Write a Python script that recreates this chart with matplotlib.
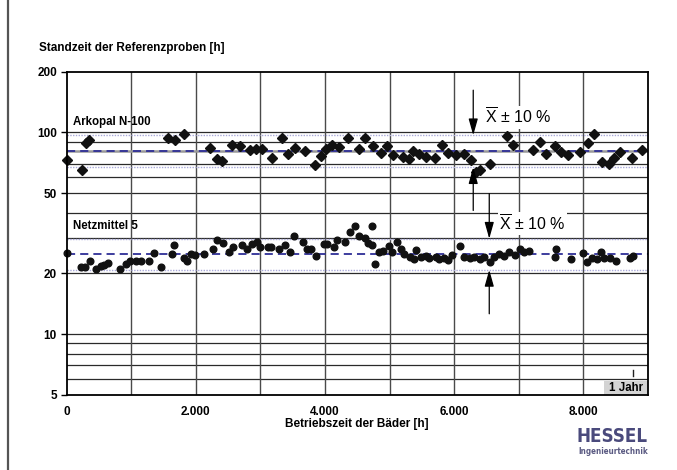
import matplotlib
matplotlib.use("Agg")
import matplotlib.pyplot as plt
from matplotlib.lines import Line2D
from matplotlib.patches import Rectangle

plt.rcParams['font.family'] = ['Liberation Sans', 'DejaVu Sans']
plt.rcParams['mathtext.fontset'] = 'custom'
plt.rcParams['mathtext.rm'] = 'Liberation Sans'

# ---- data ----
ark_x = [0, 233, 300, 340, 1562, 1682, 1822, 2215, 2329, 2412, 2562, 2676, 2836, 2929,
         3028, 3173, 3339, 3432, 3535, 3685, 3845, 3934, 4022, 4115, 4209, 4358, 4519,
         4622, 4736, 4866, 4954, 5047, 5203, 5305, 5367, 5461, 5564, 5704, 5808, 5901,
         6030, 6150, 6252, 6341, 6392, 6554, 6822, 6911, 7222, 7325, 7428, 7557, 7650,
         7754, 7945, 8065, 8169, 8282, 8396, 8473, 8567, 8748, 8903]
ark_y = [72.7, 65.4, 89, 92, 94.3, 92.2, 98.7, 84.1, 73.6, 71.9, 86.3, 85.7, 82.2, 83.2,
         83.2, 75.0, 93.3, 78.5, 84.1, 80.6, 68.7, 76.2, 83.2, 87.0, 84.7, 94.3, 83.2,
         94.3, 85.4, 79.4, 85.4, 77.6, 75.5, 74.2, 80.9, 78.5, 75.5, 75.0, 86.3, 79.1,
         77.0, 78.5, 72.7, 63.6, 65.4, 70.0, 96.2, 86.3, 81.5, 89.7, 78.5, 85.4, 80.0,
         77.6, 80.0, 88.7, 98.0, 71.3, 70.0, 75.0, 80.0, 75.0, 82.2]

netz_x = [0, 217, 283, 361, 454, 526, 578, 644, 826, 918, 980, 1073, 1146, 1280, 1353,
          1456, 1627, 1662, 1817, 1859, 1921, 1988, 2128, 2262, 2324, 2427, 2520, 2582,
          2711, 2789, 2866, 2944, 2994, 3124, 3166, 3290, 3383, 3450, 3513, 3652, 3720,
          3787, 3860, 3978, 4030, 4133, 4185, 4303, 4392, 4459, 4522, 4626, 4667, 4729,
          4719, 4780, 4842, 4893, 4997, 5040, 5117, 5170, 5221, 5310, 5377, 5413, 5480,
          5557, 5608, 5712, 5763, 5840, 5908, 5970, 6082, 6155, 6237, 6309, 6391, 6453,
          6546, 6608, 6686, 6764, 6841, 6944, 7012, 7084, 7151, 7580, 7564, 7807, 7992,
          8054, 8132, 8210, 8272, 8324, 8417, 8510, 8727, 8768]
netz_y = [25.3, 21.4, 21.6, 23.1, 20.9, 21.7, 22.0, 22.5, 20.9, 22.2, 22.9, 23.1, 23.1,
          23.1, 25.3, 21.4, 25.0, 27.7, 23.9, 23.1, 25.0, 24.7, 25.0, 26.4, 29.4, 28.3,
          25.6, 26.9, 27.7, 26.3, 28.0, 28.5, 26.9, 26.9, 26.9, 26.3, 27.7, 25.6, 30.6,
          28.7, 26.4, 26.3, 24.5, 28.0, 27.8, 26.9, 29.1, 28.7, 32.0, 34.3, 30.6, 29.9,
          28.3, 34.3, 27.7, 22.3, 25.4, 25.8, 27.2, 25.4, 28.7, 26.4, 25.0, 24.0, 23.6,
          26.2, 24.0, 24.5, 23.8, 24.0, 23.6, 23.8, 23.4, 24.7, 27.2, 24.0, 23.8, 24.0,
          23.6, 24.0, 22.7, 24.0, 25.0, 24.4, 25.6, 24.7, 26.3, 25.4, 25.8, 26.3, 24.0,
          23.6, 25.3, 22.8, 23.8, 23.6, 25.6, 23.8, 23.8, 23.1, 23.8, 24.5]

ark_mean, ark_hi, ark_lo = 80.6, 96.8, 67.2
netz_mean, netz_hi, netz_lo = 24.8, 29.7, 20.8

y_ticks = [5, 10, 20, 50, 100, 200]
x_ticks = [0, 2000, 4000, 6000, 8000]
x_ticklabels = ['0', '2.000', '4.000', '6.000', '8.000']
h_grid = [6, 7, 8, 9, 10, 20, 30, 40, 50, 60, 70, 90, 100]

# ---- figure ----
fig = plt.figure(figsize=(6.77, 4.70), dpi=100)
ax = fig.add_axes([0.0985, 0.1602, 0.8587, 0.6872])
ax.set_yscale('log')
ax.set_xlim(0, 9000)
ax.set_ylim(5, 200)

for v in h_grid:
    ax.axhline(v, color='#2a2a2a', lw=0.9, zorder=1)
for v in range(1000, 9000, 1000):
    ax.axvline(v, color='#4a4a4a', lw=1.0, zorder=1)

# mean and band lines
ax.axhline(ark_mean, color='#999999', lw=1.8, zorder=1.5)
for m, hi, lo in [(ark_mean, ark_hi, ark_lo), (netz_mean, netz_hi, netz_lo)]:
    ax.axhline(m, color='#2e2e96', lw=1.3, ls=(0, (4.5, 2.8)), zorder=2)
    ax.axhline(hi, color='#a8a8d8', lw=1.0, ls=(0, (1, 1)), zorder=2)
    ax.axhline(lo, color='#a8a8d8', lw=1.0, ls=(0, (1, 1)), zorder=2)

ax.plot(ark_x, ark_y, ls='none', marker='D', ms=5.0, color='#111111', zorder=4, clip_on=False)
ax.plot(netz_x, netz_y, ls='none', marker='o', ms=4.8, color='#111111', zorder=4, clip_on=False)

# series labels
ax.text(100, 112, 'Arkopal N-100', fontsize=8.3, fontweight='bold', va='center', ha='left', zorder=5)
ax.text(100, 34.5, 'Netzmittel 5', fontsize=8.3, fontweight='bold', va='center', ha='left', zorder=5)

# arrows
ap = dict(arrowstyle='-|>,head_length=1.0,head_width=0.28', color='black', lw=0.9,
          shrinkA=0, shrinkB=0)
ax.annotate('', xy=(6294, ark_hi), xytext=(6294, 162), arrowprops=ap, zorder=5)
ax.annotate('', xy=(6294, ark_lo), xytext=(6294, 41), arrowprops=ap, zorder=5)
ax.annotate('', xy=(6542, netz_hi), xytext=(6542, 49.7), arrowprops=ap, zorder=5)
ax.annotate('', xy=(6542, netz_lo), xytext=(6542, 12.6), arrowprops=ap, zorder=5)

lbl = r'$\overline{\rm X}$' + ' ± 10 %'
ax.text(6470, 119, lbl, fontsize=11.5, va='center', ha='left', zorder=5,
        bbox=dict(facecolor='white', edgecolor='none', pad=1.0))
ax.text(6700, 35.3, lbl, fontsize=11.5, va='center', ha='left', zorder=5,
        bbox=dict(facecolor='white', edgecolor='none', pad=1.0))

# 1 Jahr box
ax.add_patch(Rectangle((8317, 5), 9000 - 8317, 0.85, facecolor='#d3d3d3', edgecolor='none', zorder=3))
ax.text(8660, 5.42, '1 Jahr', fontsize=8.3, fontweight='bold', ha='center', va='center', zorder=5)
ax.plot([8760, 8760], [6.2, 6.63], color='#222222', lw=1.0, zorder=5)

# axes styling
for s in ax.spines.values():
    s.set_color('black')
    s.set_linewidth(1.3)
    s.set_zorder(6)
ax.set_yticks(y_ticks)
ax.set_yticklabels([str(v) for v in y_ticks])
ax.yaxis.set_minor_locator(matplotlib.ticker.NullLocator())
ax.set_xticks(x_ticks)
ax.set_xticklabels(x_ticklabels)
ax.tick_params(axis='y', which='major', length=4, width=1.0, pad=3, labelsize=8.5, direction='out')
ax.tick_params(axis='x', which='major', length=0, pad=8, labelsize=8.5)
for t in ax.get_xticklabels() + ax.get_yticklabels():
    t.set_fontweight('bold')

fig.text(39 / 677, 1 - 48 / 470, 'Standzeit der Referenzproben [h]', fontsize=8.5,
         fontweight='bold', ha='left', va='center')
fig.text(357 / 677, 1 - 424 / 470, 'Betriebszeit der Bäder [h]', fontsize=8.5,
         fontweight='bold', ha='center', va='center')

# logo
fig.text(648 / 677, 1 - 437 / 470, 'HESSEL', fontsize=13.5, fontweight='bold',
         fontstretch='condensed', color='#4a4a7c', ha='right', va='center',
         family='DejaVu Sans')
fig.text(648 / 677, 1 - 452 / 470, 'Ingenieurtechnik', fontsize=5.8, fontweight='bold',
         fontstretch='condensed', color='#5a5a82', ha='right', va='center',
         family='DejaVu Sans')

# left page frame line
fig.add_artist(Line2D([7.5 / 677, 7.5 / 677], [0, 1], color='#555555', lw=1.6))

fig.savefig('out.png', dpi=100)
